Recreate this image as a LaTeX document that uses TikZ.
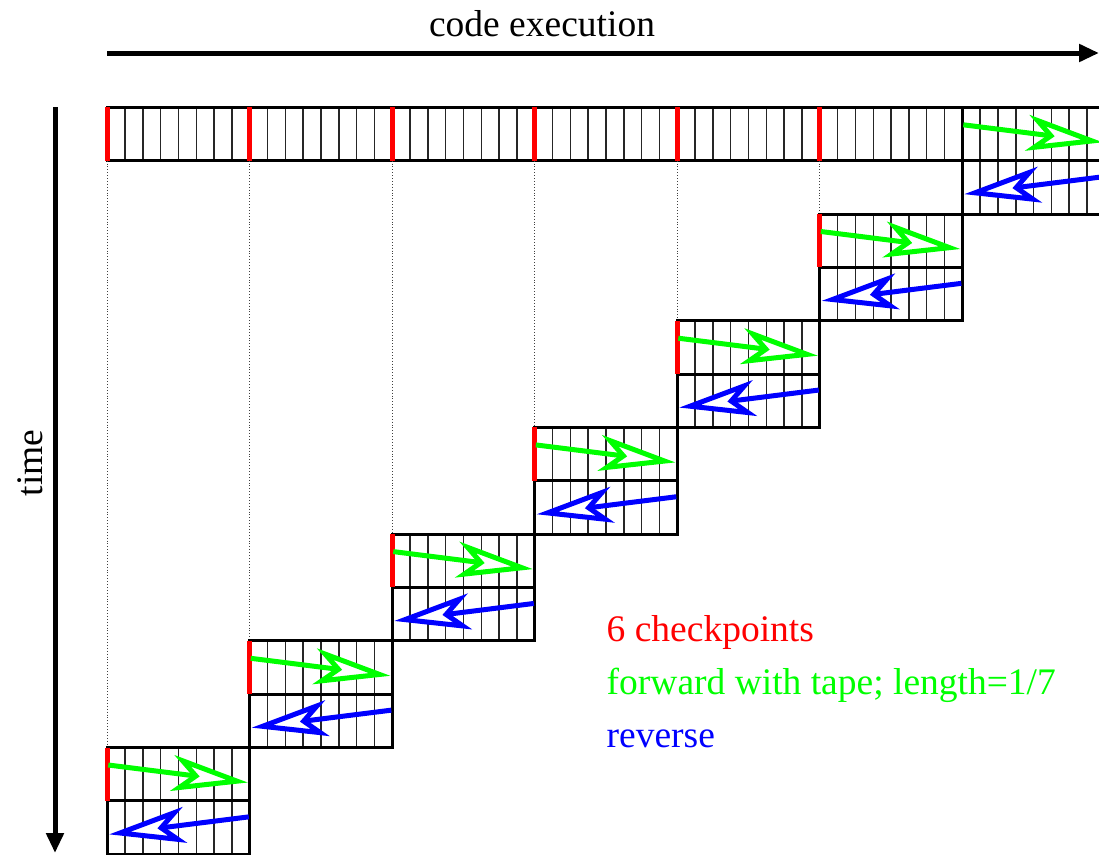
\documentclass[tikz,border=0pt]{standalone}
\usepackage{fontspec}
\setmainfont{Liberation Serif}
\usetikzlibrary{arrows.meta}
\begin{document}
\begin{tikzpicture}[x=1pt,y=-1pt,
  cellline/.style={line width=1.5pt, black!85},
  boxline/.style={line width=3pt, black, line cap=rect},
  ckpt/.style={line width=5pt, red},
  guide/.style={line width=0.9pt, dotted, black!75},
  headopen/.style={-{Stealth[open, fill=white, length=76pt, width=36pt, inset=20pt]}},
  fwd/.style={line width=5pt, green, headopen},
  rev/.style={line width=5pt, blue, headopen},
  axis/.style={line width=5pt, black, -{Triangle[length=20pt, width=17pt]}},
  lbl/.style={font=\fontsize{37.5}{40}\selectfont, inner sep=0pt}
]
\useasboundingbox (0,0) rectangle (1099,854);
\clip (0,0) rectangle (1099,854);
\def\W{142.5}
\def\H{53.35}
\def\X{107.3}
\def\Y{107.3}

% axes
\coordinate (axA) at (107,53);
\coordinate (axB) at (1099,53);
\coordinate (tmA) at (55,107);
\coordinate (tmB) at (55,853);
\draw[axis] (axA) -- (axB);
\draw[axis] (tmA) -- (tmB);
\node[lbl, anchor=base] (title) at (542,36) {code execution};
\node[lbl, rotate=90] (time) at (30,463) {time};

% top bar
\foreach \i in {1,...,55} \draw[cellline] (\X+\i*\W/8,\Y) -- ++(0,\H);
\draw[boxline] (\X,\Y) rectangle (\X+7*\W,\Y+\H);

% blocks 0..5
\foreach \k in {0,...,5} {
  \pgfmathsetmacro\xl{\X+\k*\W}
  \pgfmathsetmacro\yt{\Y+(12-2*\k)*\H}
  \foreach \i in {1,...,7} \draw[cellline] (\xl+\i*\W/8,\yt) -- ++(0,2*\H);
  \draw[guide] (\xl,\Y+\H) -- (\xl,\yt);
  \draw[boxline] (\xl,\yt) rectangle (\xl+\W,\yt+2*\H);
  \draw[boxline] (\xl,\yt+\H) -- (\xl+\W,\yt+\H);
  \draw[ckpt] (\xl,\Y) -- (\xl,\Y+\H);
  \draw[ckpt] (\xl,\yt) -- (\xl,\yt+\H);
  \coordinate (fs\k) at (\xl+1,\yt+17.5);
  \coordinate (fe\k) at (\xl+\W-2,\yt+35);
  \coordinate (rs\k) at (\xl+\W-1,\yt+\H+16);
  \coordinate (re\k) at (\xl+2,\yt+\H+33.5);
  \draw[fwd] (fs\k) -- (fe\k);
  \draw[rev] (rs\k) -- (re\k);
}

% block 6 (last segment)
\pgfmathsetmacro\xs{\X+6*\W}
\foreach \i in {1,...,7} \draw[cellline] (\xs+\i*\W/8,\Y+\H) -- ++(0,\H);
\draw[boxline] (\xs,\Y) rectangle (\xs+\W,\Y+2*\H);
\draw[boxline] (\xs,\Y+\H) -- (\xs+\W,\Y+\H);
\coordinate (fs6) at (\xs+1,\Y+17.5);
\coordinate (fe6) at (\xs+\W-2,\Y+35);
\coordinate (rs6) at (\xs+\W-1,\Y+\H+16);
\coordinate (re6) at (\xs+2,\Y+\H+33.5);
\draw[fwd] (fs6) -- (fe6);
\draw[rev] (rs6) -- (re6);

% legend
\node[lbl, anchor=base west, text=red] (lg1) at (606.5,641.5) {6 checkpoints};
\node[lbl, anchor=base west, text=green] (lg2) at (606.5,694.5) {forward with tape; length=1/7};
\node[lbl, anchor=base west, text=blue] (lg3) at (606.5,747.5) {reverse};
\end{tikzpicture}
\end{document}
